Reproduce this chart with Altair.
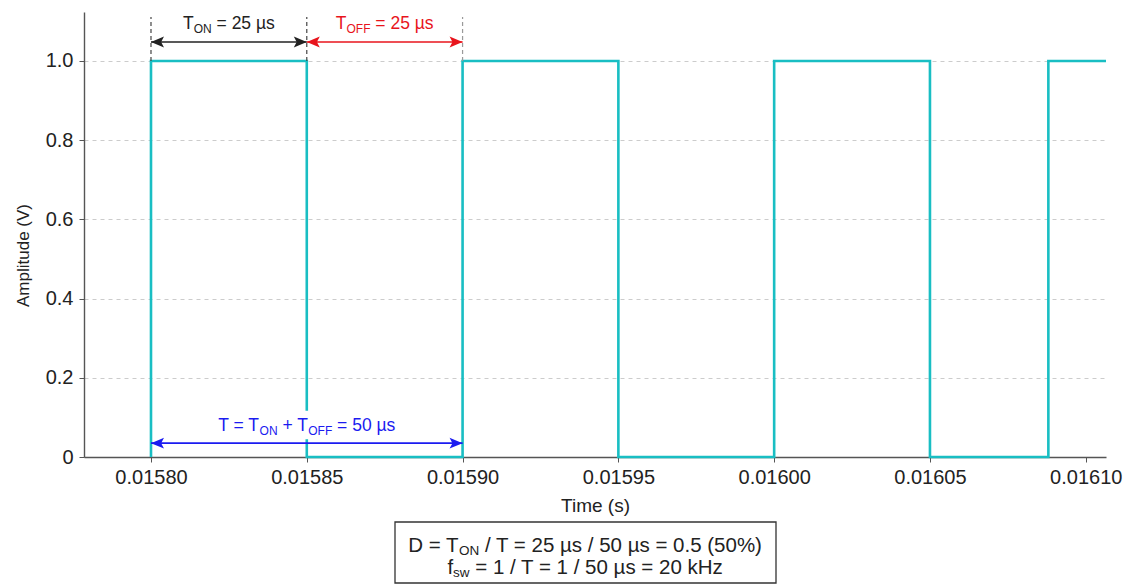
import altair as alt
import pandas as pd

FONT = "Liberation Sans"

# Square-wave vertices: time (s) and amplitude (V)
wave_t = [0.01580, 0.01580, 0.01585, 0.01585, 0.01590, 0.01590, 0.01595, 0.01595,
          0.01600, 0.01600, 0.01605, 0.01605, 0.016088, 0.016088, 0.0161065]
wave_v = [0, 1, 1, 0, 0, 1, 1, 0, 0, 1, 1, 0, 0, 1, 1]

x_ticks = [0.01580, 0.01585, 0.01590, 0.01595, 0.01600, 0.01605, 0.01610]
y_ticks = [0, 0.2, 0.4, 0.6, 0.8, 1.0]

x_domain = [0.0157785, 0.0161065]
y_domain = [0, 1.1237]

# One period: on-time and off-time markers
t_start, t_mid, t_end = 0.01580, 0.01585, 0.01590
guide_colors = ["#444444", "#444444", "#9a9a9a"]
guide_top = 1.111
dim_y = 1.048          # height of the T_ON / T_OFF arrows
dim_label_y = 1.096
period_y = 0.035       # height of the period arrow
period_label_y = 0.081

WAVE_COLOR = "#19bec3"
RED = "#e8141c"
BLUE = "#1b1bf0"
DARK = "#222222"

W, H = 1022, 445
xs = alt.Scale(domain=x_domain, nice=False, zero=False)
ys = alt.Scale(domain=y_domain, nice=False, zero=False)
x_axis = alt.Axis(values=x_ticks, format=".5f", grid=False)
y_axis = alt.Axis(values=y_ticks, grid=True, titleY=243,
                  labelExpr="datum.value == 0 ? '0' : format(datum.value, '.1f')")


def X(field="x"):
    return alt.X(field, type="quantitative", scale=xs, axis=x_axis, title="Time (s)")


def Y(field="y"):
    return alt.Y(field, type="quantitative", scale=ys, axis=y_axis, title="Amplitude (V)")


wave_df = pd.DataFrame({"x": wave_t, "y": wave_v, "i": range(len(wave_t))})
wave = alt.Chart(wave_df).mark_line(color=WAVE_COLOR, strokeWidth=2.6, strokeJoin="miter").encode(
    x=X(), y=Y(), order="i",
)

guides_df = pd.DataFrame({"x": [t_start, t_mid, t_end], "y": [1.0] * 3,
                          "y2": [guide_top] * 3, "c": guide_colors})
guides = alt.Chart(guides_df).mark_rule(strokeDash=[4, 3], strokeWidth=1.2).encode(
    x=X(), y=Y(), y2="y2", color=alt.Color("c", scale=None)
)

arrows_df = pd.DataFrame({
    "x": [t_start, t_mid, t_start],
    "x2": [t_mid, t_end, t_end],
    "y": [dim_y, dim_y, period_y],
    "c": [DARK, RED, BLUE],
})
arrow_lines = alt.Chart(arrows_df).mark_rule(strokeWidth=1.6).encode(
    x=X(), x2="x2", y=Y(), color=alt.Color("c", scale=None)
)

HEAD_RIGHT = "M0,0 L-1,-0.42 L-0.78,0 L-1,0.42 Z"
HEAD_LEFT = "M0,0 L1,-0.42 L0.78,0 L1,0.42 Z"
heads_df = pd.DataFrame({
    "x": [t_start, t_mid, t_mid, t_end, t_start, t_end],
    "y": [dim_y, dim_y, dim_y, dim_y, period_y, period_y],
    "shape": [HEAD_LEFT, HEAD_RIGHT, HEAD_LEFT, HEAD_RIGHT, HEAD_LEFT, HEAD_RIGHT],
    "c": [DARK, DARK, RED, RED, BLUE, BLUE],
})
heads = alt.Chart(heads_df).mark_point(filled=True, size=676, opacity=1, strokeWidth=0).encode(
    x=X(), y=Y(), shape=alt.Shape("shape", scale=None), color=alt.Color("c", scale=None)
)

# Approximate Arial advance widths (em units) for laying out sub-scripted labels
CW = {"T": 0.611, "O": 0.778, "N": 0.722, "F": 0.611, " ": 0.278, "=": 0.584,
      "µ": 0.576, "s": 0.5, "+": 0.584, "/": 0.278, "D": 0.722, ".": 0.278,
      "(": 0.333, ")": 0.333, "%": 0.889, "f": 0.278, "w": 0.722, "k": 0.5,
      "H": 0.722, "z": 0.5}


def text_width(s, size):
    return sum(CW.get(c, 0.556) for c in s) * size


def rich_label(parts, size, sub_size, color, x=None, y=None, px=None, py=None, sub_drop=0.2):
    """Centered label made of (text, is_subscript) pieces."""
    total = sum(text_width(t, sub_size if sub else size) for t, sub in parts)
    offset = -total / 2
    layers = []
    for t, sub in parts:
        fs = sub_size if sub else size
        stripped = t.lstrip(" ")
        lead = text_width(t[: len(t) - len(stripped)], fs)
        dy = 0.36 * size + (sub_drop * size if sub else 0)
        base = alt.Chart(pd.DataFrame({"x": [x], "y": [y], "label": [stripped]})).mark_text(
            align="left", baseline="alphabetic", dx=offset + lead, dy=dy,
            fontSize=fs, font=FONT, color=color,
        )
        if px is None:
            enc = base.encode(x=X(), y=Y(), text="label:N")
        else:
            enc = base.encode(x=alt.value(px), y=alt.value(py), text="label:N")
        layers.append(enc)
        offset += text_width(t, fs)
    return layers


# White patch behind the period label so the wave edge is interrupted there
patch = alt.Chart(pd.DataFrame({"x": [t_mid], "y": [period_label_y]})).mark_point(
    shape="M-1,-0.155 L1,-0.155 L1,0.155 L-1,0.155 Z", size=184 * 184, filled=True,
    color="white", opacity=1, strokeWidth=0,
).encode(x=X(), y=Y())

labels = []
labels += rich_label([("T", False), ("ON", True), (" = 25 µs", False)], 17.5, 12, DARK,
                     x=(t_start + t_mid) / 2, y=dim_label_y)
labels += rich_label([("T", False), ("OFF", True), (" = 25 µs", False)], 17.5, 12, RED,
                     x=(t_mid + t_end) / 2, y=dim_label_y)
labels += rich_label([("T = T", False), ("ON", True), (" + T", False), ("OFF", True),
                      (" = 50 µs", False)], 17.5, 12, BLUE,
                     x=(t_start + t_end) / 2, y=period_label_y)

# Formula box under the x-axis title (pixel positions relative to the plot area)
box_left, box_right, box_top, box_bottom = 311, 692, 510, 571
box_cx = (box_left + box_right) / 2
formula_box = alt.Chart(pd.DataFrame({"a": [0]})).mark_rect(
    fill="white", stroke="#333333", strokeWidth=1.3
).encode(x=alt.value(box_left), x2=alt.value(box_right),
         y=alt.value(box_top), y2=alt.value(box_bottom))

labels += rich_label([("D = T", False), ("ON", True),
                      (" / T = 25 µs / 50 µs = 0.5 (50%)", False)], 20.5, 13.5, DARK,
                     px=box_cx, py=533, sub_drop=0.12)
labels += rich_label([("f", False), ("sw", True), (" = 1 / T = 1 / 50 µs = 20 kHz", False)],
                     20.5, 13.5, DARK, px=box_cx, py=555, sub_drop=0.12)

chart = alt.layer(
    wave, guides, arrow_lines, heads, patch, formula_box, *labels
).properties(
    width=W, height=H,
    autosize=alt.AutoSizeParams(type="none"),
    padding={"left": 84, "top": 12, "right": 24, "bottom": 127},
    background="white",
).configure_view(
    stroke=None
).configure_axis(
    labelFont=FONT, titleFont=FONT, labelColor=DARK, titleColor=DARK,
    titleFontWeight="normal", domainColor="#555555", tickColor="#555555",
    domainWidth=1.4, tickSize=5, labelFontSize=20,
    gridColor="#cccccc", gridDash=[4, 4], gridWidth=1,
).configure_axisX(
    labelPadding=5, titleFontSize=19, titlePadding=9,
).configure_axisY(
    labelPadding=6, titleFontSize=17, titlePadding=13,
)

chart.save("out.html", embed_options={"renderer": "svg", "actions": False})
